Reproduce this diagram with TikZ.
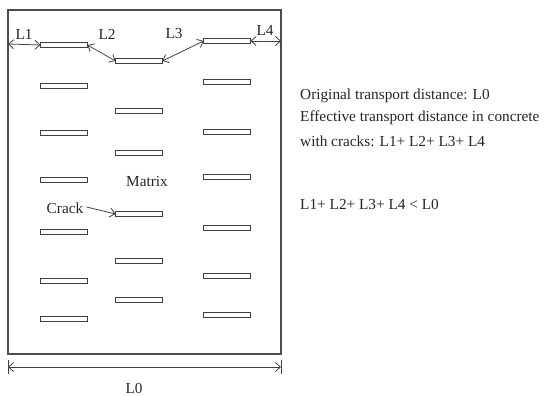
\documentclass[tikz,border=0pt]{standalone}
\usepackage{fontspec}
\setmainfont{Liberation Serif}
\usetikzlibrary{arrows.meta}
\begin{document}
\begin{tikzpicture}[x=1pt,y=-1pt,
  crack/.style={draw=black!75,line width=0.9pt,fill=white,minimum width=47pt,minimum height=4.5pt,inner sep=0pt,outer sep=0pt},
  dim/.style={draw=black!75,line width=0.8pt,{Straight Barb[length=5pt,width=9pt]}-{Straight Barb[length=5pt,width=9pt]}},
  lbl/.style={font=\fontsize{15.3}{18}\selectfont,inner sep=0pt,text=black!85},
  note/.style={font=\fontsize{15.3}{18}\selectfont,inner sep=0pt,anchor=west,text=black!85}]
\useasboundingbox (0,0) rectangle (554,396);
% concrete specimen
\draw[black!70,line width=1.2pt] (8,10) rectangle (281,354);
\coordinate (bl) at (8,44);
\coordinate (br) at (281,41);
% cracks, column 1
\node[crack] (a1) at (64,45) {};
\node[crack] (a2) at (64,86) {};
\node[crack] (a3) at (64,133) {};
\node[crack] (a4) at (64,180) {};
\node[crack] (a5) at (64,232) {};
\node[crack] (a6) at (64,281) {};
\node[crack] (a7) at (64,319) {};
% cracks, column 2
\node[crack] (b1) at (139,61) {};
\node[crack] (b2) at (139,111) {};
\node[crack] (b3) at (139,153) {};
\node[crack] (b4) at (139,214) {};
\node[crack] (b5) at (139,261) {};
\node[crack] (b6) at (139,300) {};
% cracks, column 3
\node[crack] (c1) at (227,41) {};
\node[crack] (c2) at (227,82) {};
\node[crack] (c3) at (227,132) {};
\node[crack] (c4) at (227,177) {};
\node[crack] (c5) at (227,228) {};
\node[crack] (c6) at (227,276) {};
\node[crack] (c7) at (227,315) {};
% transport path segments
\draw[dim] (bl) -- (a1.west);
\draw[dim] (a1.east) -- (b1.west);
\draw[dim] (b1.east) -- (c1.west);
\draw[dim] (c1.east) -- (br);
\node[lbl] (l1) at (24,34) {L1};
\node[lbl] (l2) at (107,34) {L2};
\node[lbl] (l3) at (174,34) {L3};
\node[lbl] (l4) at (265,30) {L4};
% labels inside the specimen
\node[lbl] (mx) at (147,182) {Matrix};
\node[lbl] (ck) at (65,208) {Crack};
\draw[black!75,line width=0.8pt,-{Straight Barb[length=5pt,width=9pt]}] (ck.east) ++(3,-1) -- (b4.west);
% overall width
\coordinate (d1) at (8,367);
\coordinate (d2) at (281,367);
\draw[black!75,line width=0.8pt] (8,360) -- (8,374) (281,360) -- (281,374);
\draw[dim] (d1) -- (d2);
\node[lbl] (l0) at (134,388) {L0};
% explanation
\node[note] (t1) at (300,96) {Original transport distance: L0};
\node[note] (t2) at (300,118) {Effective transport distance in concrete};
\node[note] (t3) at (300,141) {with cracks: L1+ L2+ L3+ L4};
\node[note] (t4) at (300,204) {L1+ L2+ L3+ L4 < L0};
\end{tikzpicture}
\end{document}
